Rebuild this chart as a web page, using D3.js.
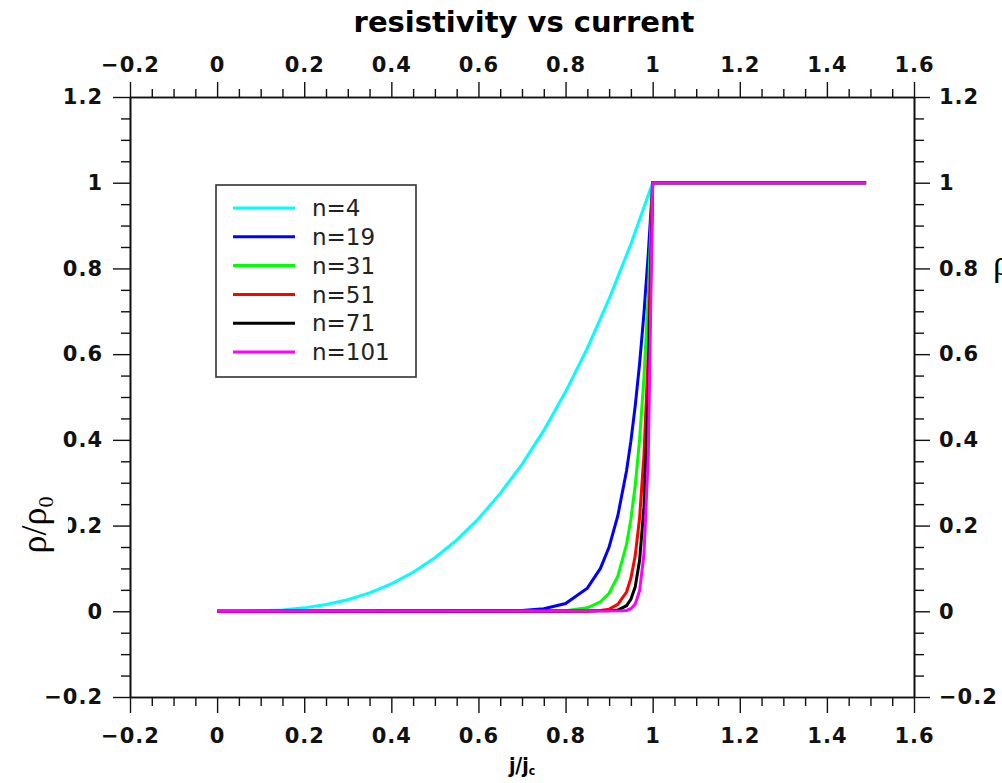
<!DOCTYPE html>
<html>
<head>
<meta charset="utf-8">
<script src="https://cdn.jsdelivr.net/npm/d3@7"></script>
<style>
  body { margin: 0; background: #fff; }
  svg { display: block; }
</style>
</head>
<body>
<div id="chart"></div>
<script>
// values
const seriesNames = ["n=4", "n=19", "n=31", "n=51", "n=71", "n=101"];
const seriesColors = ["#00ffff", "#0000ff", "#00ff00", "#ff0000", "#000000", "#ff00ff"];

const n4J   = [0, 0.05, 0.1, 0.15, 0.2, 0.25, 0.3, 0.35, 0.4, 0.45, 0.5, 0.55, 0.6, 0.65, 0.7, 0.75, 0.8, 0.85, 0.9, 0.95, 1.0, 1.49];
const n4Rho = [0, 0, 0.001, 0.003, 0.008, 0.016, 0.027, 0.043, 0.064, 0.091, 0.125, 0.166, 0.216, 0.275, 0.343, 0.422, 0.512, 0.614, 0.729, 0.857, 1, 1];

const n19J   = [0, 0.7, 0.75, 0.8, 0.85, 0.88, 0.9, 0.92, 0.94, 0.95, 0.96, 0.97, 0.98, 0.99, 1.0, 1.49];
const n19Rho = [0, 0.002, 0.006, 0.018, 0.054, 0.100, 0.150, 0.223, 0.328, 0.397, 0.480, 0.578, 0.695, 0.835, 1, 1];

const n31J   = [0, 0.8, 0.85, 0.88, 0.9, 0.92, 0.94, 0.95, 0.96, 0.97, 0.98, 0.99, 1.0, 1.49];
const n31Rho = [0, 0.001, 0.008, 0.022, 0.042, 0.082, 0.156, 0.215, 0.294, 0.401, 0.545, 0.740, 1, 1];

const n51J   = [0, 0.85, 0.88, 0.9, 0.92, 0.94, 0.95, 0.96, 0.97, 0.98, 0.99, 1.0, 1.49];
const n51Rho = [0, 0.0003, 0.002, 0.005, 0.016, 0.045, 0.077, 0.130, 0.218, 0.364, 0.605, 1, 1];

const n71J   = [0, 0.9, 0.92, 0.94, 0.95, 0.96, 0.97, 0.98, 0.99, 1.0, 1.49];
const n71Rho = [0, 0.001, 0.003, 0.013, 0.028, 0.057, 0.119, 0.243, 0.495, 1, 1];

const n101J   = [0, 0.93, 0.94, 0.95, 0.96, 0.97, 0.98, 0.99, 1.0, 1.49];
const n101Rho = [0, 0.001, 0.002, 0.006, 0.017, 0.048, 0.133, 0.366, 1, 1];

const xTicks = [-0.2, 0, 0.2, 0.4, 0.6, 0.8, 1, 1.2, 1.4, 1.6];
const yTicks = [-0.2, 0, 0.2, 0.4, 0.6, 0.8, 1, 1.2];

const seriesJ = [n4J, n19J, n31J, n51J, n71J, n101J];
const seriesRho = [n4Rho, n19Rho, n31Rho, n51Rho, n71Rho, n101Rho];

const W = 1002, H = 783;
const margin = {top: 97, right: 88, bottom: 86, left: 130};
const width = W - margin.left - margin.right,
      height = H - margin.top - margin.bottom;

const svg = d3.select("#chart").append("svg")
    .attr("width", W)
    .attr("height", H);

const g = svg.append("g")
    .attr("transform", `translate(${margin.left}, ${margin.top})`);

const x = d3.scaleLinear().domain([-0.2, 1.6]).range([0, width]);
const y = d3.scaleLinear().domain([-0.2, 1.2]).range([height, 0]);

// minor ticks every 0.05
const xMinor = d3.range(-0.2, 1.6001, 0.05).filter(v => Math.abs(Math.round(v * 5) - v * 5) > 1e-6);
const yMinor = d3.range(-0.2, 1.2001, 0.05).filter(v => Math.abs(Math.round(v * 5) - v * 5) > 1e-6);

const fmt = d => d3.format("~g")(Math.round(d * 10) / 10);

function styleAxis(sel) {
    sel.selectAll("path.domain").attr("stroke", "#111").attr("stroke-width", 1.6);
    sel.selectAll(".tick line").attr("stroke", "#111").attr("stroke-width", 1.4);
    sel.selectAll("text")
        .attr("fill", "#111")
        .style("font-family", "DejaVu Sans")
        .style("font-weight", "bold")
        .style("font-size", "21px")
        .style("letter-spacing", "1px");
}

// bottom
g.append("g").attr("transform", `translate(0, ${height})`)
    .call(d3.axisBottom(x).tickValues(xMinor).tickSize(9).tickFormat("").tickSizeOuter(0))
    .call(styleAxis);
g.append("g").attr("transform", `translate(0, ${height})`)
    .call(d3.axisBottom(x).tickValues(xTicks).tickSize(16).tickPadding(15).tickFormat(fmt).tickSizeOuter(0))
    .call(styleAxis);
// top
g.append("g")
    .call(d3.axisTop(x).tickValues(xMinor).tickSize(8).tickFormat("").tickSizeOuter(0))
    .call(styleAxis);
g.append("g")
    .call(d3.axisTop(x).tickValues(xTicks).tickSize(15).tickPadding(10).tickFormat(fmt).tickSizeOuter(0))
    .call(styleAxis);
// left
g.append("g")
    .call(d3.axisLeft(y).tickValues(yMinor).tickSize(9).tickFormat("").tickSizeOuter(0))
    .call(styleAxis);
g.append("g")
    .call(d3.axisLeft(y).tickValues(yTicks).tickSize(17).tickPadding(10).tickFormat(fmt).tickSizeOuter(0))
    .call(styleAxis);
// right
g.append("g").attr("transform", `translate(${width}, 0)`)
    .call(d3.axisRight(y).tickValues(yMinor).tickSize(10).tickFormat("").tickSizeOuter(0))
    .call(styleAxis);
g.append("g").attr("transform", `translate(${width}, 0)`)
    .call(d3.axisRight(y).tickValues(yTicks).tickSize(16).tickPadding(9).tickFormat(fmt).tickSizeOuter(0))
    .call(styleAxis);

// curves
const line = d3.line()
    .x(d => x(d[0]))
    .y(d => y(d[1]));

seriesNames.forEach((name, i) => {
    const pts = seriesJ[i].map((j, k) => [j, seriesRho[i][k]]);
    g.append("path")
        .datum(pts)
        .attr("fill", "none")
        .attr("stroke", seriesColors[i])
        .attr("stroke-width", 3)
        .attr("stroke-linejoin", "miter")
        .attr("d", line);
});

// legend
const legend = svg.append("g").attr("transform", "translate(216, 185)");
legend.append("rect")
    .attr("width", 200).attr("height", 192)
    .attr("fill", "#fff").attr("stroke", "#333").attr("stroke-width", 1.6);
seriesNames.forEach((name, i) => {
    const ly = 23 + i * 28.8;
    legend.append("line")
        .attr("x1", 17).attr("x2", 79)
        .attr("y1", ly).attr("y2", ly)
        .attr("stroke", seriesColors[i]).attr("stroke-width", 3);
    legend.append("text")
        .attr("x", 96).attr("y", ly)
        .attr("dy", "0.36em")
        .attr("fill", "#222")
        .style("font-family", "DejaVu Sans")
        .style("font-size", "23px")
        .text(name);
});

// title
svg.append("text")
    .attr("x", margin.left + width / 2 + 2).attr("y", 32)
    .attr("text-anchor", "middle")
    .style("font-family", "DejaVu Sans")
    .style("font-weight", "bold")
    .style("font-size", "29px")
    .text("resistivity vs current");

// x axis title
const xt = svg.append("text")
    .attr("x", margin.left + width / 2).attr("y", 773)
    .attr("text-anchor", "middle")
    .style("font-family", "DejaVu Sans Condensed, DejaVu Sans")
    .style("font-weight", "bold")
    .style("font-size", "21px");
xt.append("tspan").text("j/j");
xt.append("tspan").attr("font-size", "12px").attr("dy", "2").text("c");

// y axis title (white box hides part of the 0.2 label, as in the reference)
svg.append("rect")
    .attr("x", 0).attr("y", 470).attr("width", 68).attr("height", 100)
    .attr("fill", "#fff");
const yt = svg.append("text")
    .attr("transform", "translate(46, 525) rotate(-90)")
    .attr("text-anchor", "middle")
    .style("font-family", "Liberation Serif")
    .style("font-size", "36px");
yt.append("tspan").text("ρ/ρ");
yt.append("tspan").attr("font-size", "22px").attr("dy", "7").text("0");

// right side title, clipped by the window edge
const yr = svg.append("text")
    .attr("x", 993).attr("y", 275)
    .style("font-family", "Liberation Serif")
    .style("font-size", "36px");
yr.append("tspan").text("ρ/ρ");
yr.append("tspan").attr("font-size", "22px").attr("dy", "7").text("0");
</script>
</body>
</html>
